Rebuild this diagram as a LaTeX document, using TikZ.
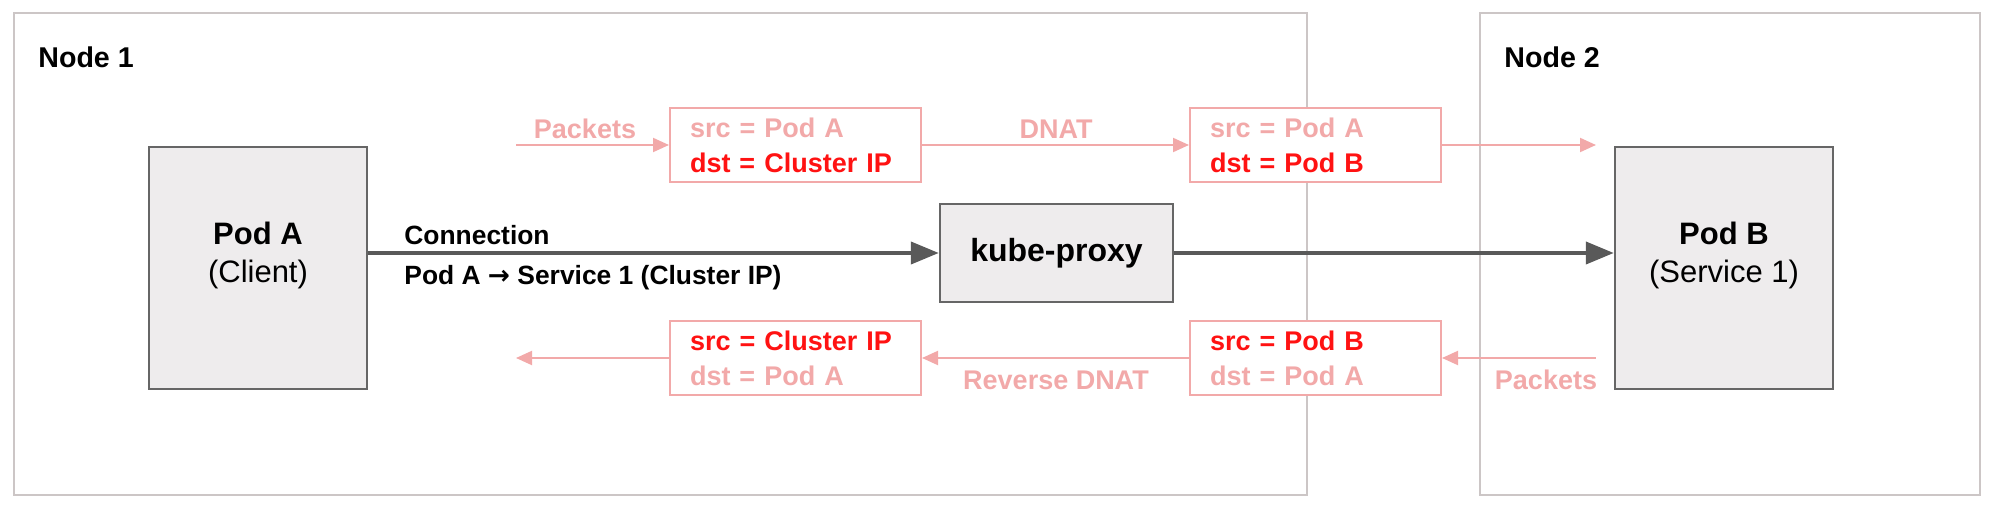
\documentclass[tikz,border=0pt]{standalone}
\usepackage{fontspec}
\setmainfont{Liberation Sans}
\newfontfamily\arrowfont{DejaVu Sans}
\usetikzlibrary{arrows.meta,fit}
\definecolor{pinkl}{HTML}{F2A9A9}
\definecolor{redd}{HTML}{FF1212}
\definecolor{boxfill}{HTML}{EEECED}
\definecolor{boxdraw}{HTML}{666666}
\definecolor{regionborder}{HTML}{CCC6C6}
\definecolor{mainline}{HTML}{595959}
\begin{document}
\begin{tikzpicture}[x=0.5pt,y=-0.5pt,
  region/.style={draw=regionborder, line width=1pt, inner sep=0pt},
  regionlabel/.style={anchor=west, inner sep=0pt, font=\fontsize{14.3}{16}\selectfont\bfseries},
  podbox/.style={draw=boxdraw, fill=boxfill, line width=1.2pt, inner sep=0pt},
  podtext/.style={align=center, inner sep=0pt, font=\fontsize{15.5}{19}\selectfont},
  pbox/.style={draw=pinkl, line width=1pt, fill=white, text width=105.5pt, inner xsep=10pt,
    minimum height=37pt, align=left, font=\fontsize{13.5}{17.5}\selectfont\bfseries},
  plabel/.style={inner sep=0pt, text=pinkl, font=\fontsize{13.5}{16}\selectfont\bfseries},
  parrow/.style={draw=pinkl, line width=1pt, -{Triangle[length=8pt,width=7pt]}},
  marrow/.style={draw=mainline, line width=2pt, -{Triangle[length=14pt,width=11pt]}},
  clabel/.style={anchor=west, inner sep=0pt, font=\fontsize{13.2}{16}\selectfont\bfseries}]
\useasboundingbox (0,0) rectangle (1999,513);
% regions
\node[region, fit={(14,13) (1307,495)}] (n1) {};
\node[region, fit={(1480,13) (1980,495)}] (n2) {};
\node[regionlabel] (n1lbl) at (38,57) {Node 1};
\node[regionlabel] (n2lbl) at (1504,57) {Node 2};
% pods
\node[podbox, fit={(149,147) (367,389)}] (podA) {};
\node[podtext] (podAt) at (258,255) {\textbf{Pod A}\\(Client)};
\node[podbox, fit={(1615,147) (1833,389)}] (podB) {};
\node[podtext] (podBt) at (1724,255) {\textbf{Pod B}\\(Service 1)};
% kube-proxy
\node[podbox, fit={(940,204) (1173,302)}] (kp) {};
\node[inner sep=0pt, font=\fontsize{16}{19}\selectfont\bfseries] (kpt) at (kp.center) {kube-proxy};
% main arrows
\draw[marrow] (podA.east |- kp.west) -- (kp.west);
\draw[marrow] (kp.east) -- (kp.east -| podB.west);
\node[clabel] (conn1) at (404,235) {Connection};
\node[clabel] (conn2) at (404,278) {Pod A {\arrowfont\bfseries →} Service 1 (Cluster IP)};
% pink boxes
\node[pbox] (b1) at (795.5,145) {\textcolor{pinkl}{src = Pod A}\\\textcolor{redd}{dst = Cluster IP}};
\node[pbox] (b2) at (1315.5,145) {\textcolor{pinkl}{src = Pod A}\\\textcolor{redd}{dst = Pod B}};
\node[pbox] (b3) at (795.5,358) {\textcolor{redd}{src = Cluster IP}\\\textcolor{pinkl}{dst = Pod A}};
\node[pbox] (b4) at (1315.5,358) {\textcolor{redd}{src = Pod B}\\\textcolor{pinkl}{dst = Pod A}};
\coordinate (tin) at (516,145);
\coordinate (tout) at (1596,145);
\coordinate (bin) at (1596,358);
\coordinate (bout) at (516,358);
\draw[parrow] (tin) -- (b1.west);
\draw[parrow] (b1.east) -- (b2.west);
\draw[parrow] (b2.east) -- (tout);
\draw[parrow] (bin) -- (b4.east);
\draw[parrow] (b4.west) -- (b3.east);
\draw[parrow] (b3.west) -- (bout);
\node[plabel] (pk1) at (585,129) {Packets};
\node[plabel] (dnat) at (1056,129) {DNAT};
\node[plabel] (rdnat) at (1056,380) {Reverse DNAT};
\node[plabel] (pk2) at (1546,380) {Packets};
\end{tikzpicture}
\end{document}
